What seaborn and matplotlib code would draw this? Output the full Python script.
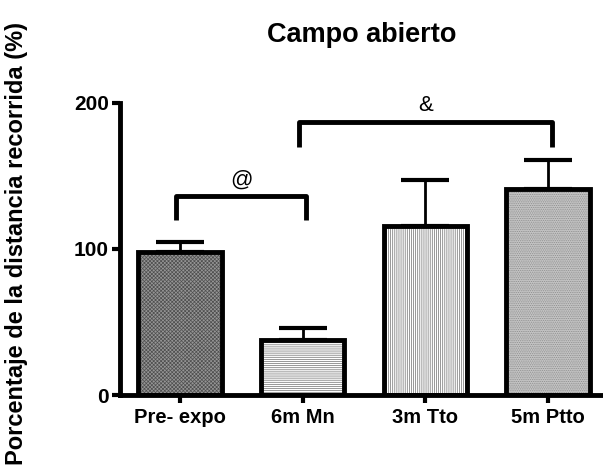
import matplotlib
matplotlib.use("Agg")
import matplotlib.pyplot as plt
import seaborn as sns
import pandas as pd

groups = ["Pre- expo", "6m Mn", "3m Tto", "5m Ptto"]
means = [98, 38, 116, 141]
sem = [7, 8, 31, 20]

# significance brackets: (left group, right group, y top, leg length, symbol)
bracket_pairs = [(0, 1, 136, 16, "@"), (1, 3, 187, 17, "&")]

sns.set_theme(style="white")
plt.rcParams["font.family"] = ["Liberation Sans", "DejaVu Sans"]
plt.rcParams["font.weight"] = "bold"
plt.rcParams["hatch.linewidth"] = 0.5
for key in ["text.color", "axes.labelcolor", "xtick.color", "ytick.color"]:
    plt.rcParams[key] = "black"

fig = plt.figure(figsize=(6.03, 4.72), dpi=100)
ax = fig.add_axes([0.199, 0.163, 0.801, 0.619])

df = pd.DataFrame({"group": groups, "value": means})
sns.barplot(data=df, x="group", y="value", ax=ax, width=0.68,
            color="white", edgecolor="black", linewidth=3.5, zorder=2)

faces = ["#959595", "white", "white", "#c4c4c4"]
hatches = ["xxxxxxxxx", "--------", "||||||||", "........."]
hatch_cols = ["#4f4f4f", "#6f6f6f", "#6f6f6f", "#8a8a8a"]
for patch, fc, h, hc in zip(ax.patches, faces, hatches, hatch_cols):
    patch.set_facecolor(fc)
    patch.set_hatch(h)
    patch._hatch_color = matplotlib.colors.to_rgba(hc)

# upper-only error bars
ax.errorbar(range(len(groups)), means, yerr=[[0] * len(groups), sem],
            fmt="none", ecolor="black", elinewidth=2, capsize=17,
            capthick=3, zorder=1)

for i, j, ytop, leg, sym in bracket_pairs:
    ax.plot([i - 0.03, i - 0.03, j + 0.03, j + 0.03],
            [ytop - leg, ytop, ytop, ytop - leg],
            color="black", lw=3.5, solid_capstyle="butt", clip_on=False)
    ax.text((i + j) / 2, ytop + 4, sym, ha="center", va="bottom",
            fontsize=16, fontweight="normal")

ax.set_xlim(-0.49, 3.45)
ax.set_ylim(0, 200)
ax.set_yticks([0, 100, 200])
ax.set_xlabel("")
ax.set_ylabel("Porcentaje de la distancia recorrida (%)", fontsize=17,
              fontweight="bold")
ax.yaxis.set_label_coords(-0.19, 0.52)
ax.set_title("Campo abierto", fontsize=19.5, fontweight="bold", pad=44)

for side in ["top", "right"]:
    ax.spines[side].set_visible(False)
for side in ["left", "bottom"]:
    ax.spines[side].set_linewidth(3.5)
    ax.spines[side].set_color("black")
ax.spines["left"].set_bounds(0, 200)

ax.tick_params(axis="both", direction="out", length=6, width=3,
               colors="black", bottom=True, left=True)
ax.tick_params(axis="y", labelsize=15, pad=2)
ax.tick_params(axis="x", labelsize=14.5, pad=3)
for lab in ax.get_xticklabels() + ax.get_yticklabels():
    lab.set_fontweight("bold")

fig.savefig("out.png", dpi=100, facecolor="white")
